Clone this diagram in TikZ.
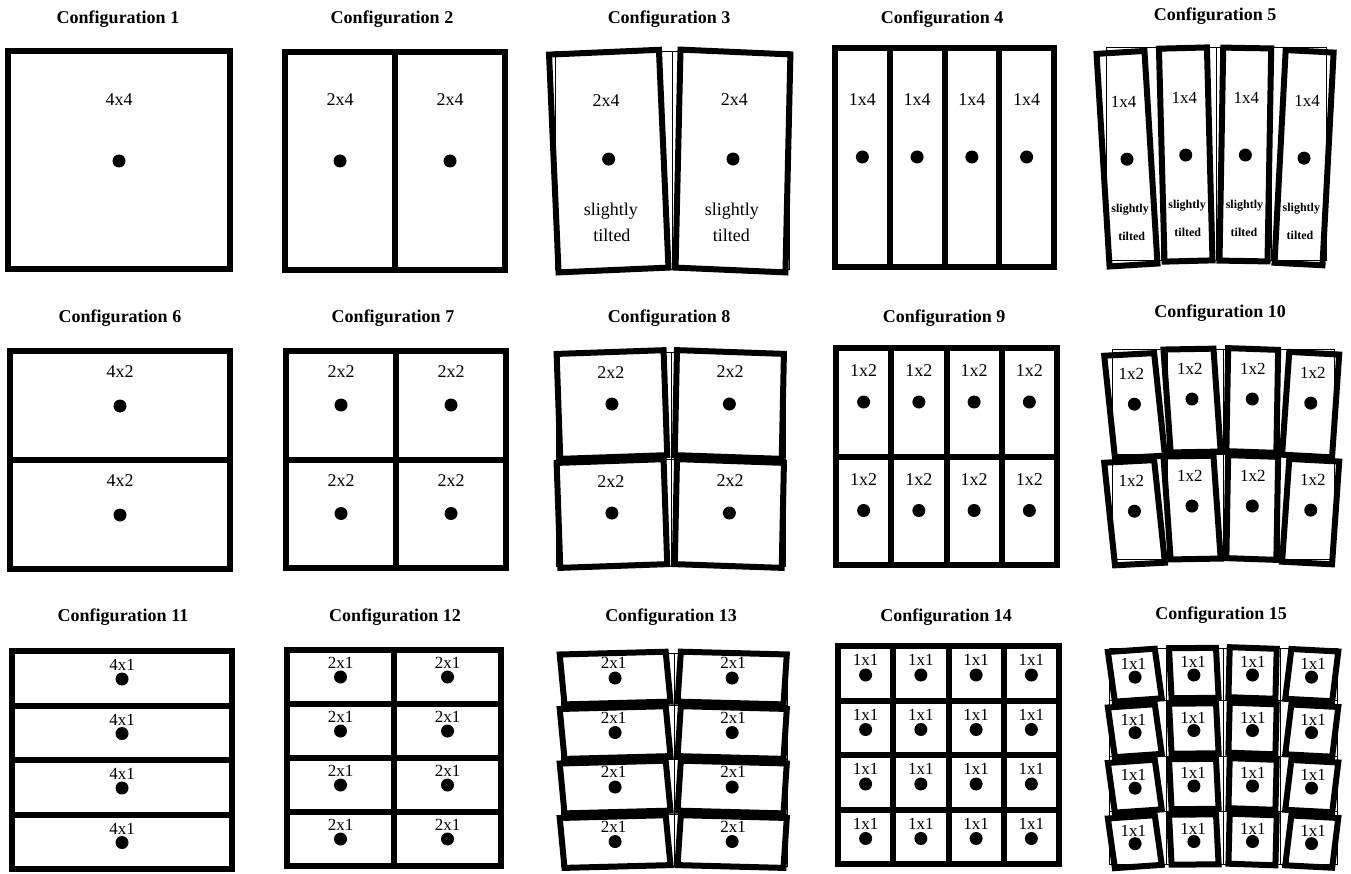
\documentclass[tikz,border=0pt]{standalone}
\usepackage{fontspec}
\setmainfont{Liberation Serif}
% straight grid: x1,y1,x2,y2,ncols,nrows,text,label offset,dot offset
\newcommand{\sgrid}[9]{%
  \pgfmathsetmacro\cw{(#3-#1)/#5}%
  \pgfmathsetmacro\rhh{(#4-#2)/#6}%
  \foreach \ii in {1,...,#5}{%
    \ifnum\ii<#5\relax \draw[frame] ({#1+\ii*\cw},#2) -- ({#1+\ii*\cw},#4);\fi
  }%
  \foreach \jj in {1,...,#6}{%
    \ifnum\jj<#6\relax \draw[frame] (#1,{#2+\jj*\rhh}) -- (#3,{#2+\jj*\rhh});\fi
  }%
  \draw[frame] (#1,#2) rectangle (#3,#4);
  \foreach \ii in {1,...,#5}{%
    \foreach \jj in {1,...,#6}{%
      \node[cellab] (\cid-\ii-\jj) at ({#1+(\ii-0.5)*\cw},{#2+(\jj-1)*\rhh+#8}) {#7};
      \node[dotn] (\cid-d\ii-\jj) at ({#1+(\ii-0.5)*\cw},{#2+(\jj-1)*\rhh+#9}) {};
    }%
  }%
}
% tilted grid; parameters in macros:
% \tX centre, \tn cols, \tpx col pitch, \tw cell width, \tm rows, \ttop first top,
% \tpy row pitch, \th cell height, \tlo label offset, \tdo dot offset, \tlab text,
% \tcols list col/rotation/extra slant/drop, \textra extra content
\newcommand{\tgrid}{%
  \pgfmathsetmacro\fl{\tX-\tn*\tpx/2}%
  \pgfmathsetmacro\fr{\tX+\tn*\tpx/2}%
  \pgfmathsetmacro\fb{\ttop+(\tm-1)*\tpy+\th}%
  \draw[thinframe] (\fl,\ttop) rectangle (\fr,\fb);
  \foreach \ci in {1,...,\tn}{%
    \ifnum\ci<\tn\relax \draw[thinframe] (\fl+\ci*\tpx,\ttop) -- (\fl+\ci*\tpx,\fb);\fi
  }%
  \foreach \ri in {1,...,\tm}{%
    \ifnum\ri<\tm\relax \draw[thinframe] (\fl,\ttop+\ri*\tpy-\tpy/2+\th/2) -- (\fr,\ttop+\ri*\tpy-\tpy/2+\th/2);\fi
  }%
  \foreach \ci/\ang/\sl/\dr in \tcols {%
    \pgfmathsetmacro\cx{\tX+(\ci-(\tn+1)/2)*\tpx}%
    \pgfmathsetmacro\kk{-tan(\sl)}%
    \foreach \ri in {1,...,\tm}{%
      \pgfmathsetmacro\by{\ttop+(\ri-1)*\tpy+\th+\dr}%
      \begin{scope}[shift={(\cx,\by)},rotate=\ang,xslant=\kk]
        \draw[frame] (-\tw/2,-\th) rectangle (\tw/2,0);
        \node[cellab] (\cid-\ci-\ri) at (0,-\th+\tlo) {\tlab};
        \node[dotn] (\cid-d\ci-\ri) at (0,-\th+\tdo) {};
        \textra
      \end{scope}
    }%
  }%
}
\begin{document}
\begin{tikzpicture}[x=1pt,y=-1pt,
  frame/.style={line width=6pt},
  thinframe/.style={line width=1pt},
  lab/.style={font=\fontsize{18}{18}\selectfont, inner sep=0pt},
  labs/.style={font=\fontsize{17}{17}\selectfont, inner sep=0pt},
  tinylab/.style={font=\bfseries\fontsize{12}{12}\selectfont, inner sep=0pt},
  title/.style={font=\bfseries\fontsize{18}{18}\selectfont, anchor=base, inner sep=0pt},
  dotn/.style={circle, fill=black, inner sep=0pt, minimum size=13pt},
  cellab/.style={lab}]
\fill[white] (0,0) rectangle (1351,874);
\useasboundingbox (0,0) rectangle (1351,874);

% titles
\node[title] (t1) at (118,24) {Configuration 1};
\node[title] (t2) at (392,24) {Configuration 2};
\node[title] (t3) at (669,24) {Configuration 3};
\node[title] (t4) at (942,24) {Configuration 4};
\node[title] (t5) at (1215,21) {Configuration 5};
\node[title] (t6) at (120,323) {Configuration 6};
\node[title] (t7) at (393,323) {Configuration 7};
\node[title] (t8) at (669,323) {Configuration 8};
\node[title] (t9) at (944,323) {Configuration 9};
\node[title] (t10) at (1220,318) {Configuration 10};
\node[title] (t11) at (123,621) {Configuration 11};
\node[title] (t12) at (395,621) {Configuration 12};
\node[title] (t13) at (671,621) {Configuration 13};
\node[title] (t14) at (946,621) {Configuration 14};
\node[title] (t15) at (1221,619) {Configuration 15};

% straight configurations
\tikzset{cellab/.style={lab}}
\def\cid{c1}\sgrid{8}{51}{230}{269}{1}{1}{4x4}{49}{110}
\def\cid{c2}\sgrid{285}{52}{505}{270}{2}{1}{2x4}{48}{109}
\def\cid{c4}\sgrid{835}{48}{1054}{267}{4}{1}{1x4}{52}{109}
\def\cid{c6}\sgrid{10}{351}{230}{569}{1}{2}{4x2}{21}{55}
\def\cid{c7}\sgrid{286}{351}{506}{568}{2}{2}{2x2}{21}{54}
\def\cid{c9}\sgrid{836}{348}{1057}{565}{4}{2}{1x2}{23}{54}
\tikzset{cellab/.style={labs}}
\def\cid{c11}\sgrid{12}{651}{232}{869}{1}{4}{4x1}{14}{28}
\def\cid{c12}\sgrid{287}{650}{501}{866}{2}{4}{2x1}{13}{27}
\def\cid{c14}\sgrid{838}{646}{1059}{864}{4}{4}{1x1}{14}{29}

% tilted configurations
% Configuration 3
\tikzset{cellab/.style={lab}}
\def\cid{c3}\def\tX{672}\def\tn{2}\def\tpx{117}\def\tw{110}\def\tm{1}
\def\ttop{52}\def\tpy{0}\def\th{218}\def\tlo{48}\def\tdo{107}\def\tlab{2x4}
\def\tcols{1/2.5/0/0, 2/-2.5/1.2/0}
\def\textra{\node[lab] (\cid-s\ci) at (0,-\th+159) {slightly};
            \node[lab] (\cid-t\ci) at (0,-\th+183) {tilted};}
\tgrid
% Configuration 5
\tikzset{cellab/.style={labs}}
\def\cid{c5}\def\tX{1216}\def\tn{4}\def\tpx{55}\def\tw{48}\def\tm{1}
\def\ttop{48}\def\tpy{0}\def\th{213}\def\tlo{50}\def\tdo{107}\def\tlab{1x4}
\def\tcols{1/3.5/0/4, 2/1.5/0/0, 3/-1/0/0, 4/-3/0/3}
\def\textra{\node[tinylab] (\cid-s\ci) at (0,-\th+158) {slightly};
            \node[tinylab] (\cid-t\ci) at (0,-\th+184) {tilted};}
\tgrid
\def\textra{}
% Configuration 8
\tikzset{cellab/.style={lab}}
\def\cid{c8}\def\tX{671}\def\tn{2}\def\tpx{114.5}\def\tw{107}\def\tm{2}
\def\ttop{352}\def\tpy{109}\def\th{105}\def\tlo{20}\def\tdo{52}\def\tlab{2x2}
\def\tcols{1/2/0/0, 2/-2/0.8/0}
\tgrid
% Configuration 10
\tikzset{cellab/.style={labs}}
\def\cid{c10}\def\tX{1223.5}\def\tn{4}\def\tpx{55.7}\def\tw{50}\def\tm{2}
\def\ttop{349}\def\tpy{107}\def\th{103}\def\tlo{20}\def\tdo{50}\def\tlab{1x2}
\def\tcols{1/3/3/5, 2/1/3/0, 3/-2/1/0, 4/-3/-1/4}
\tgrid
% Configuration 13
\def\cid{c13}\def\tX{674}\def\tn{2}\def\tpx{113}\def\tw{106}\def\tm{4}
\def\ttop{653}\def\tpy{54.5}\def\th{50}\def\tlo{10}\def\tdo{25}\def\tlab{2x1}
\def\tcols{1/1.5/4/0, 2/-1.5/-2.3/0}
\tgrid
% Configuration 15
\def\cid{c15}\def\tX{1223.5}\def\tn{4}\def\tpx{56.8}\def\tw{47}\def\tm{4}
\def\ttop{648}\def\tpy{55.5}\def\th{50}\def\tlo{14}\def\tdo{27}\def\tlab{1x1}
\def\tcols{1/4/4/2, 2/0.5/2.5/0, 3/-2/0.5/0, 4/-3/-4/2}
\tgrid
\end{tikzpicture}
\end{document}
